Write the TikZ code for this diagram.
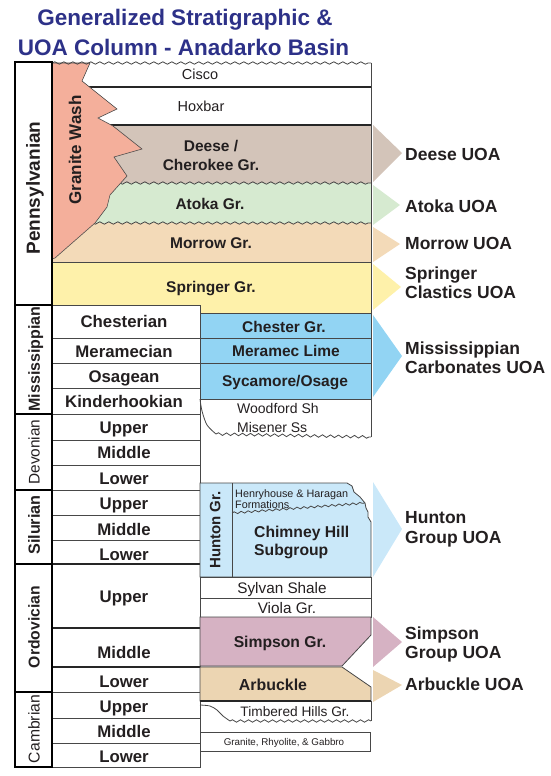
\documentclass[tikz,border=0pt]{standalone}
\usepackage{fontspec}
\setmainfont{Liberation Sans}
\usetikzlibrary{decorations.pathmorphing}
\definecolor{navy}{HTML}{2D3188}
\definecolor{ink}{HTML}{231F20}
\definecolor{granite}{HTML}{F4AF9B}
\definecolor{deese}{HTML}{D3C4B9}
\definecolor{atoka}{HTML}{D6EAD0}
\definecolor{morrow}{HTML}{F3DAB8}
\definecolor{springer}{HTML}{FEF1AA}
\definecolor{carb}{HTML}{92D4F3}
\definecolor{hunton}{HTML}{CAE8F9}
\definecolor{simpson}{HTML}{D6B2C3}
\definecolor{arb}{HTML}{ECD5B2}
\begin{document}
\begin{tikzpicture}[x=1pt,y=-1pt,
  ln/.style={draw=black!72, line width=0.8pt},
  dk/.style={draw=black!85, line width=1.3pt},
  wave/.style={draw=black!72, line width=0.8pt, decorate, decoration={snake, segment length=9pt, amplitude=1.2pt}},
  per/.style={draw=black, line width=2pt},
  lbl/.style={inner sep=0pt, text depth=0pt, text=ink},
  ml/.style={inner sep=0pt, text=ink},
  ttl/.style={lbl, text=navy, text height=16.1pt, font=\fontsize{22.5}{24}\selectfont\bfseries},
  ep/.style={lbl, text height=12pt, font=\fontsize{16.8}{18}\selectfont\bfseries},
  sb/.style={lbl, text height=11.1pt, font=\fontsize{15.5}{17}\selectfont\bfseries},
  sr/.style={lbl, text height=10.4pt, font=\fontsize{14.5}{16}\selectfont},
  uoa/.style={ml, align=left, anchor=north west, font=\fontsize{17.5}{19.3}\selectfont\bfseries},
  uoa1/.style={lbl, anchor=west, text height=12.5pt, font=\fontsize{17.5}{19.3}\selectfont\bfseries}
]
\useasboundingbox (0,0) rectangle (550,776);

% title
\node[ttl] (t1) at (185,17.5) {Generalized Stratigraphic \&};
\node[ttl] (t2) at (183.5,47) {UOA Column - Anadarko Basin};

% upper layers
\fill[white] (52,63) rectangle (371,125);
\fill[deese] (52,125) rectangle (371,183);
\fill[atoka] (52,183) rectangle (371,223);
\fill[morrow] (52,223) rectangle (371,262);
\fill[springer] (52,262) -- (371,262) -- (371,313) -- (200,313) -- (200,305) -- (52,305) -- cycle;
\draw[dk] (52,87) -- (371,87);
\draw[dk] (52,125) -- (371,125);
\draw[wave] (52,183) -- (371,183);
\draw[wave] (52,223) -- (371,223);
\draw[ln] (52,262) -- (371,262);
\draw[ln] (371,63) -- (371,313);

% granite wash
\filldraw[fill=granite, draw=black!70, line width=0.6pt] (52,63) -- (90,63) -- (82,81) -- (117,109) -- (98,118) -- (113,126) -- (142,149) -- (114,157) -- (127,176) -- (110,195) -- (107,207) -- (95,223) -- (55,258) -- (52,259) -- cycle;
\draw[wave] (52,63) -- (371,63);

% epoch rows
\foreach \ya/\yb/\yt/\txt [count=\i] in {
  305/338/321/Chesterian, 338/363/351/Meramecian, 363/388/376/Osagean, 388/414/401/Kinderhookian,
  414/440/427/Upper, 440/465/452.5/Middle, 465/490/478/Lower,
  490/515/503/Upper, 515/540/529/Middle, 540/564/554.5/Lower,
  564/628/596/Upper, 628/667/652/Middle, 667/692/681/Lower,
  692/718/706/Upper, 718/743/731/Middle, 743/767/756/Lower} {
  \draw[ln] (52,\ya) rectangle (200,\yb);
  \node[ep] (ep\i) at (124,\yt) {\txt};
}
\draw[dk] (52,628) -- (200,628);
\draw[dk] (52,667) -- (200,667);
\draw[dk] (52,564) -- (200,564);

% period boxes
\draw[per] (15,62) rectangle (52,305);
\draw[per] (15,305) rectangle (52,414);
\draw[per] (15,414) rectangle (52,490);
\draw[per] (15,490) rectangle (52,564);
\draw[per] (15,564) rectangle (52,692);
\draw[per] (15,692) rectangle (52,767);

% carbonates
\filldraw[fill=carb, ln] (200,313) rectangle (371,338);
\filldraw[fill=carb, ln] (200,338) rectangle (371,363);
\filldraw[fill=carb, ln] (200,363) rectangle (371,399);
\draw[ln] (371,399) -- (371,437);
\draw[wave, decoration={segment length=8pt, amplitude=1.3pt}] (216,434) -- (371,437);
\draw[ln] plot[smooth] coordinates {(200,399) (202,411) (207,425) (216,434)};

% hunton
\filldraw[fill=hunton, ln] (200,483) -- (347,483) -- (352,486) -- (354,492) -- (360,497) -- (365,503) -- (366,508) -- (368,512) -- (368,517) -- (371,522) -- (371,577) -- (200,577) -- cycle;
\draw[ln] (232,483) -- (232,577);
\draw[wave, decoration={segment length=7pt, amplitude=1pt}] (232,513) -- (365,503);

% lower strata
\draw[ln] (200,577) rectangle (371,598);
\draw[ln] (200,598) rectangle (371,617);
\filldraw[fill=simpson, ln] (200,617) -- (371,617) -- (371,635) -- (342,666) -- (200,666) -- cycle;
\filldraw[fill=arb, ln] (200,667) -- (342,667) -- (371,687) -- (371,701) -- (200,701) -- cycle;
\draw[dk] (200,701) -- (371,701);
\draw[ln] (371,701) -- (371,721);
\draw[ln] plot[smooth] coordinates {(200,705) (210,706) (217,710) (223,716) (230,721)};
\draw[wave, decoration={segment length=8pt, amplitude=1.2pt}] (230,721) -- (371,721);
\draw[ln] (200,732) rectangle (370,751);

% UOA arrows
\fill[deese] (373,125) -- (402,153) -- (373,182) -- cycle;
\fill[atoka] (373,185) -- (400,205) -- (373,225) -- cycle;
\fill[morrow] (373,227) -- (400,244) -- (373,262) -- cycle;
\fill[springer] (373,264) -- (401,287) -- (373,310) -- cycle;
\fill[carb] (373,315) -- (402,356) -- (373,397) -- cycle;
\fill[hunton] (373,482) -- (402,529) -- (373,577) -- cycle;
\fill[simpson] (373,617) -- (402,642) -- (373,667) -- cycle;
\fill[arb] (373,670) -- (402,685) -- (373,702) -- cycle;

% period labels
\node[lbl, rotate=90, text height=13.6pt, font=\fontsize{19}{20}\selectfont\bfseries] (pPen) at (33,188) {Pennsylvanian};
\node[lbl, rotate=90, text height=11.5pt, font=\fontsize{16}{18}\selectfont\bfseries] (pMis) at (34,359) {Mississippian};
\node[lbl, rotate=90, text height=11pt, font=\fontsize{15.4}{17}\selectfont] (pDev) at (34,452) {Devonian};
\node[lbl, rotate=90, text height=11.6pt, font=\fontsize{16.2}{18}\selectfont\bfseries] (pSil) at (34,525) {Silurian};
\node[lbl, rotate=90, text height=11.2pt, font=\fontsize{15.7}{17}\selectfont\bfseries] (pOrd) at (34,627) {Ordovician};
\node[lbl, rotate=90, text height=11.2pt, font=\fontsize{15.7}{17}\selectfont] (pCam) at (34,729) {Cambrian};
\node[lbl, rotate=90, text height=12.2pt, font=\fontsize{17}{18}\selectfont\bfseries] (gw) at (75,150) {Granite Wash};

% strata labels
\node[sr] (cisco) at (200,74.5) {Cisco};
\node[sr] (hox) at (201,106.5) {Hoxbar};
\node[ml, anchor=north, align=center, font=\fontsize{15.5}{18.5}\selectfont\bfseries] (dee) at (211,140.5) {Deese /\\Cherokee Gr.};
\node[sb] (ato) at (210,203.5) {Atoka Gr.};
\node[sb] (mor) at (211,242.5) {Morrow Gr.};
\node[sb] (spr) at (211,286.5) {Springer Gr.};
\node[sb] (che) at (284,326.5) {Chester Gr.};
\node[sb] (mer) at (286,350.5) {Meramec Lime};
\node[sb] (syc) at (285,380.5) {Sycamore/Osage};
\node[lbl, anchor=west, text height=10pt, font=\fontsize{14}{16}\selectfont] (woo) at (237,408) {Woodford Sh};
\node[lbl, anchor=west, text height=10pt, font=\fontsize{14}{16}\selectfont] (mis) at (237,427.5) {Misener Ss};
\node[lbl, rotate=90, text height=10.7pt, font=\fontsize{15}{17}\selectfont\bfseries] (hgr) at (215,530) {Hunton Gr.};
\node[ml, anchor=north west, align=left, font=\fontsize{10.8}{11}\selectfont] (hen) at (235,489) {Henryhouse \& Haragan\\Formations};
\node[ml, anchor=north west, align=left, font=\fontsize{15.7}{18}\selectfont\bfseries] (chi) at (254,526) {Chimney Hill\\Subgroup};
\node[lbl, text height=11pt, font=\fontsize{15.3}{17}\selectfont] (syl) at (282,587.5) {Sylvan Shale};
\node[lbl, text height=11pt, font=\fontsize{15.3}{17}\selectfont] (vio) at (287,608) {Viola Gr.};
\node[lbl, text height=11.2pt, font=\fontsize{15.7}{17}\selectfont\bfseries] (sim) at (280,641.5) {Simpson Gr.};
\node[lbl, text height=11.4pt, font=\fontsize{15.9}{17}\selectfont\bfseries] (arbl) at (273,684.5) {Arbuckle};
\node[lbl, text height=9.8pt, font=\fontsize{13.7}{15}\selectfont] (tim) at (295,712) {Timbered Hills Gr.};
\node[lbl, text height=7pt, font=\fontsize{9.8}{11}\selectfont] (gra) at (284,742) {Granite, Rhyolite, \& Gabbro};

% UOA labels
\node[uoa1] (uDee) at (405,154.5) {Deese UOA};
\node[uoa1] (uAto) at (405,206) {Atoka UOA};
\node[uoa1] (uMor) at (405,243) {Morrow UOA};
\node[uoa] (uSpr) at (405,266.7) {Springer\\Clastics UOA};
\node[uoa] (uMis) at (405,341.7) {Mississippian\\Carbonates UOA};
\node[uoa] (uHun) at (405,511.7) {Hunton\\Group UOA};
\node[uoa] (uSim) at (405,626.7) {Simpson\\Group UOA};
\node[uoa1] (uArb) at (405,684) {Arbuckle UOA};
\end{tikzpicture}
\end{document}
